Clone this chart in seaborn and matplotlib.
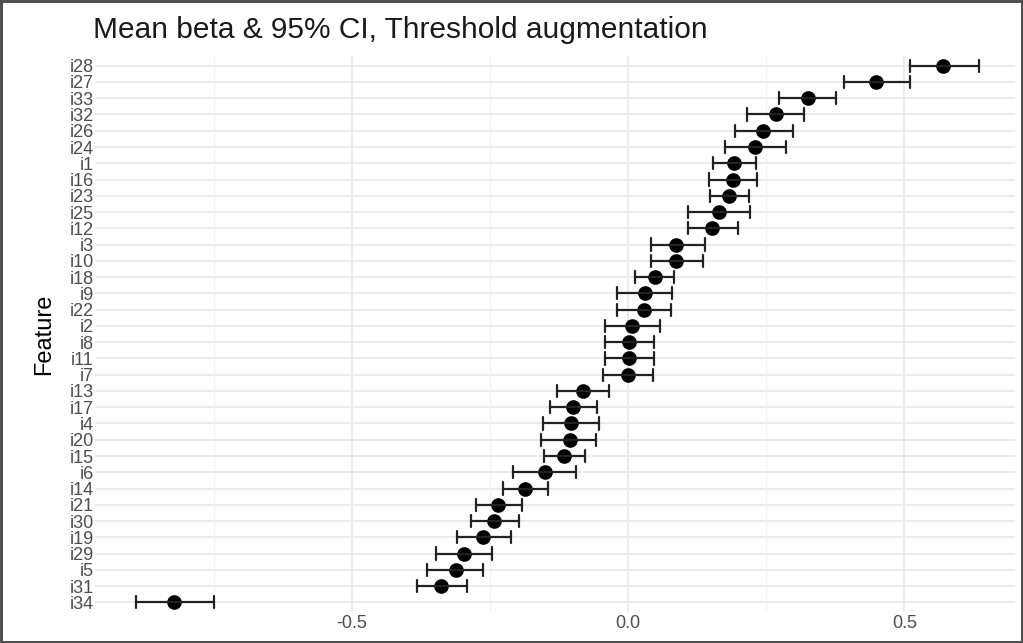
import matplotlib
matplotlib.use("Agg")
import matplotlib.pyplot as plt
import seaborn as sns
import pandas as pd
import numpy as np

features = ["i28", "i27", "i33", "i32", "i26", "i24", "i1", "i16", "i23", "i25",
            "i12", "i3", "i10", "i18", "i9", "i22", "i2", "i8", "i11", "i7",
            "i13", "i17", "i4", "i20", "i15", "i6", "i14", "i21", "i30", "i19",
            "i29", "i5", "i31", "i34"]
mean_beta = [0.570, 0.449, 0.325, 0.267, 0.245, 0.229, 0.191, 0.190, 0.182, 0.164,
             0.152, 0.087, 0.087, 0.049, 0.031, 0.029, 0.007, 0.002, 0.001, 0.000,
             -0.081, -0.099, -0.103, -0.106, -0.116, -0.150, -0.186, -0.236, -0.242, -0.262,
             -0.298, -0.312, -0.339, -0.822]
ci_low = [0.510, 0.390, 0.273, 0.215, 0.193, 0.175, 0.153, 0.146, 0.148, 0.108,
          0.108, 0.042, 0.042, 0.013, -0.020, -0.020, -0.042, -0.042, -0.042, -0.045,
          -0.128, -0.141, -0.155, -0.157, -0.152, -0.208, -0.227, -0.276, -0.285, -0.310,
          -0.348, -0.365, -0.383, -0.891]
ci_high = [0.635, 0.511, 0.377, 0.319, 0.298, 0.285, 0.231, 0.233, 0.218, 0.220,
           0.199, 0.139, 0.135, 0.083, 0.079, 0.078, 0.058, 0.047, 0.047, 0.045,
           -0.034, -0.056, -0.052, -0.058, -0.078, -0.094, -0.146, -0.193, -0.197, -0.213,
           -0.247, -0.262, -0.291, -0.749]
x_ticks = [-0.5, 0.0, 0.5]
x_tick_labels = ["-0.5", "0.0", "0.5"]
minor_ticks = [-0.75, -0.25, 0.25]

# long table: lower, mean, upper per feature; median = mean, full range = CI
rows = []
for f, m, lo, hi in zip(features, mean_beta, ci_low, ci_high):
    rows += [(f, lo), (f, m), (f, hi)]
df = pd.DataFrame(rows, columns=["feature", "beta"])

sns.set_theme(style="white")
plt.rcParams["font.family"] = ["Liberation Sans", "DejaVu Sans"]

fig = plt.figure(figsize=(10.23, 6.43), dpi=100, linewidth=2.5, edgecolor="#505050")
ax = fig.add_axes([0.093, 0.048, 0.899, 0.865])

# grid
for i in range(len(features)):
    ax.axhline(i, color="#ebebeb", linewidth=1.4, zorder=0)
for t in x_ticks:
    ax.axvline(t, color="#ebebeb", linewidth=1.4, zorder=0)
for t in minor_ticks:
    ax.axvline(t, color="#f2f2f2", linewidth=0.8, zorder=0)

sns.pointplot(data=df, x="beta", y="feature", order=features,
              estimator="median", errorbar=("pi", 100), capsize=0.75,
              color="black", linestyle="none", markersize=8.5,
              err_kws={"linewidth": 1.6, "color": "#222222"}, ax=ax)

ax.set_xlim(-0.965, 0.70)
ax.set_ylim(len(features) - 0.4, -0.6)
ax.set_xticks(x_ticks)
ax.set_xticklabels(x_tick_labels)
ax.tick_params(axis="both", length=0, labelsize=13, labelcolor="#4d4d4d", pad=2)
ax.tick_params(axis="y", pad=1)
for s in ax.spines.values():
    s.set_visible(False)
ax.set_xlabel("")
ax.set_ylabel("Feature", fontsize=17, color="black", labelpad=10)
ax.grid(False)
fig.text(0.091, 0.953, "Mean beta & 95% CI, Threshold augmentation",
         fontsize=21.5, color="#1a1a1a", ha="left", va="center")

fig.savefig("out.png", dpi=100)
